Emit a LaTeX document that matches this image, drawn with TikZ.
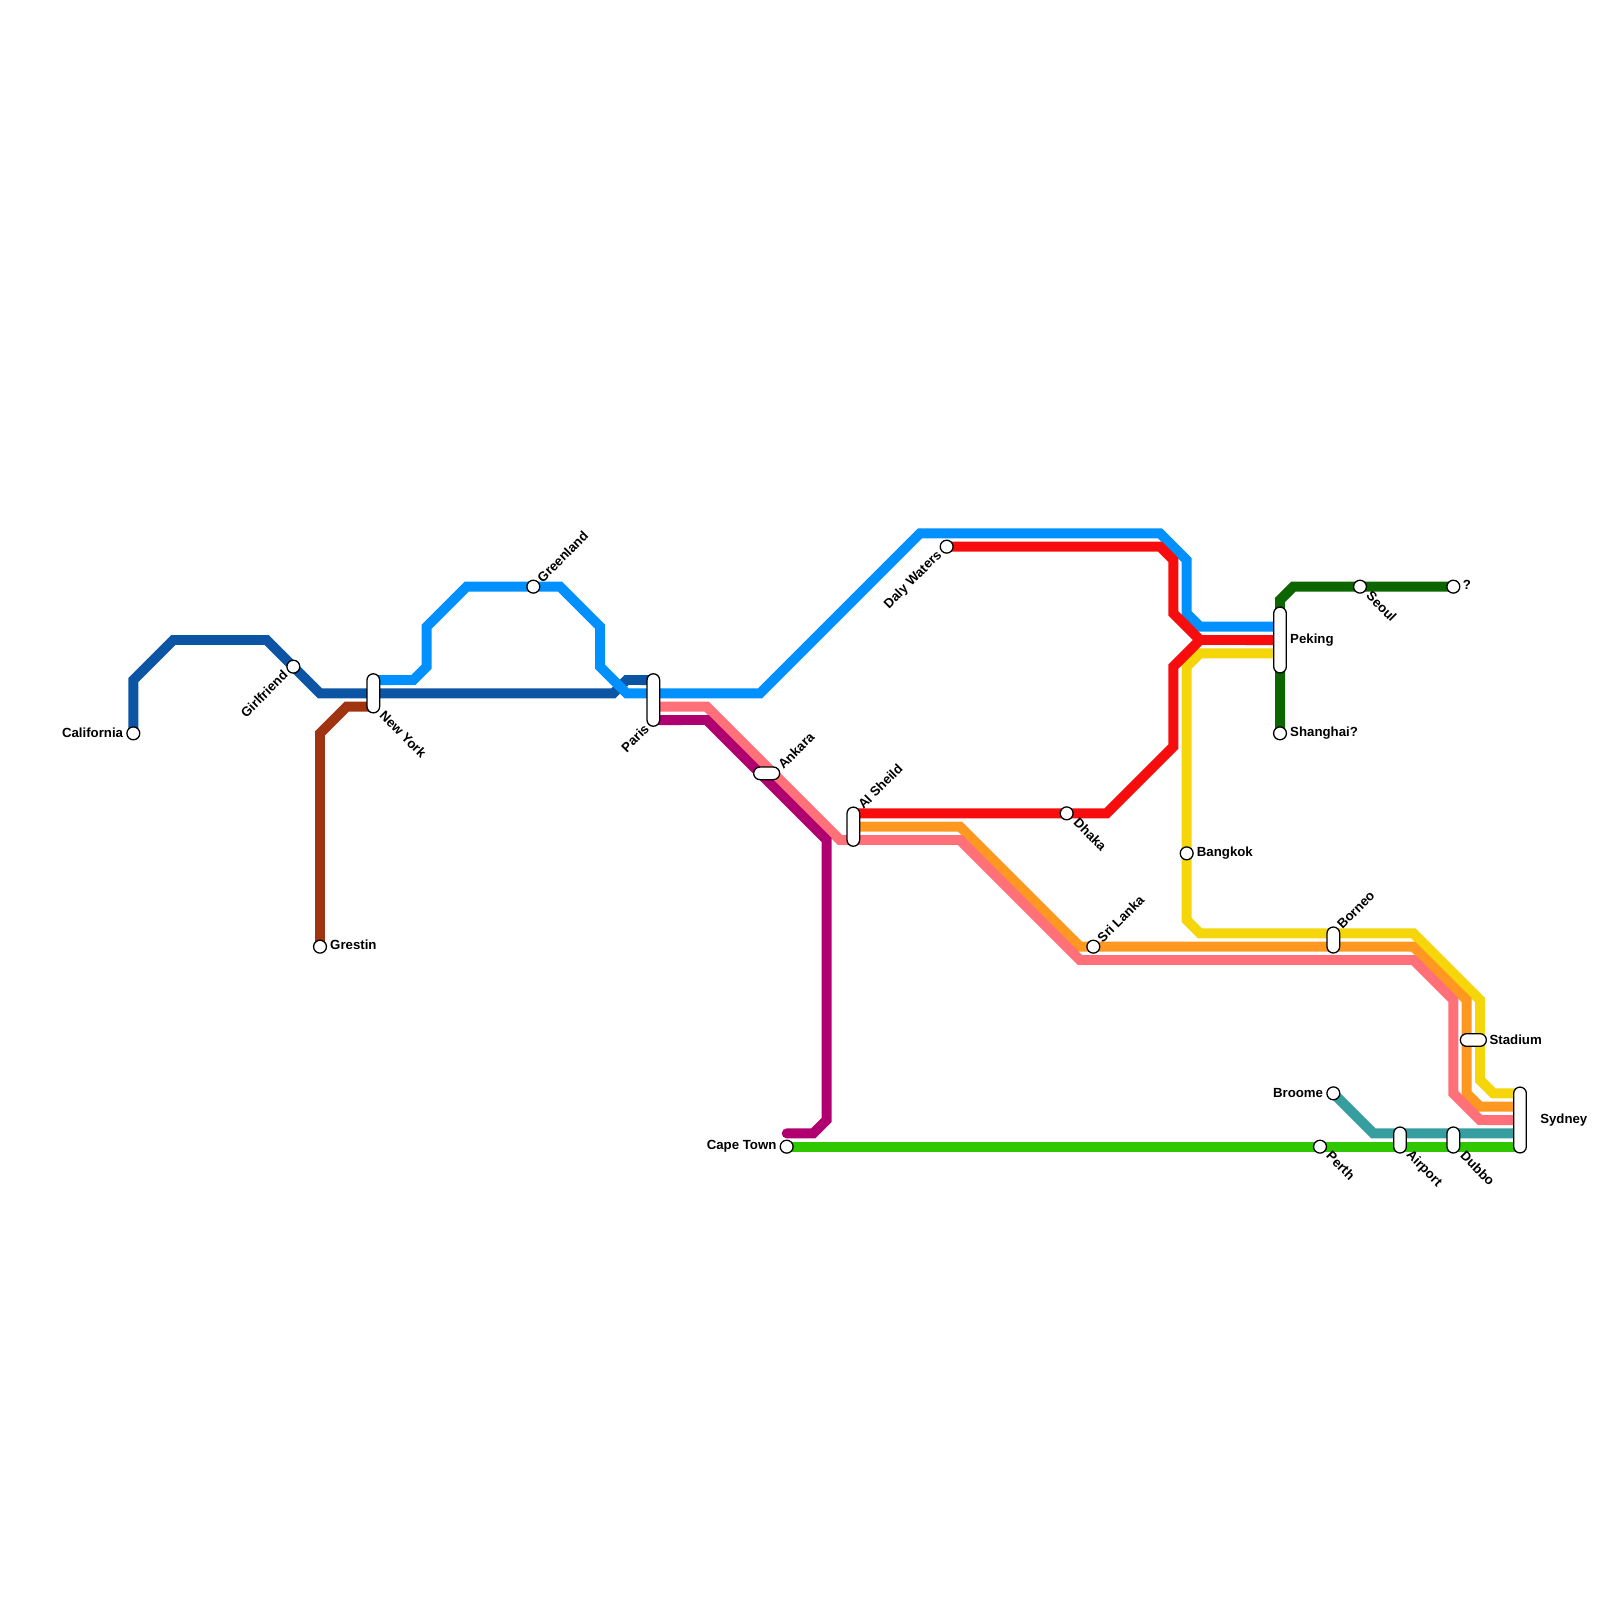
\documentclass[tikz,border=0pt]{standalone}
\usepackage{fontspec}
\setmainfont{Liberation Sans}
\usetikzlibrary{backgrounds}
\definecolor{navyline}{HTML}{0B55A4}
\definecolor{skyline}{HTML}{0090FF}
\definecolor{redline}{HTML}{F70D0D}
\definecolor{yellowline}{HTML}{F5D60B}
\definecolor{orangeline}{HTML}{FF9820}
\definecolor{pinkline}{HTML}{FF7078}
\definecolor{purpleline}{HTML}{B00070}
\definecolor{greenline}{HTML}{2FC800}
\definecolor{tealline}{HTML}{379EA0}
\definecolor{forestline}{HTML}{0C6600}
\definecolor{brownline}{HTML}{A03410}
\tikzset{
	route/.style={line width=8.5pt},
	stop/.style={circle,draw=black,fill=white,line width=1.1pt,minimum size=11pt},
	capsule/.style={draw=black,fill=white,line width=1.1pt,rounded corners=5.4pt},
	vcap/.style={capsule,minimum width=10.8pt,minimum height=#1},
	hcap/.style={capsule,minimum height=10.8pt,minimum width=#1},
	place/.style={font=\fontsize{11.3}{13}\selectfont\bfseries}
}
\begin{document}
\begin{tikzpicture}[scale=0.4]
	\tikzstyle{every node}+=[inner sep=0pt]
	\useasboundingbox (0,0) rectangle (120,-120);
	% round stops
	\node [stop] (california) at (10,-55) {};
	\node [stop] (girlfriend) at (22,-50) {};
	\node [stop] (greenland) at (40,-44) {};
	\node [stop] (grestin) at (24,-71) {};
	\node [stop] (capetown) at (59,-86) {};
	\node [stop] (dalywaters) at (71,-41) {};
	\node [stop] (dhaka) at (80,-61) {};
	\node [stop] (srilanka) at (82,-71) {};
	\node [stop] (bangkok) at (89,-64) {};
	\node [stop] (shanghai) at (96,-55) {};
	\node [stop] (seoul) at (102,-44) {};
	\node [stop] (mystery) at (109,-44) {};
	\node [stop] (broome) at (100,-82) {};
	\node [stop] (perth) at (99,-86) {};
	% long stops
	\node [vcap=33.4pt] (newyork) at (28,-52) {};
	\node [vcap=44.8pt] (paris) at (49,-52.5) {};
	\node [hcap=22.2pt] (ankara) at (57.5,-58) {};
	\node [vcap=33.4pt] (alsheild) at (64,-62) {};
	\node [vcap=56.2pt] (peking) at (96,-48) {};
	\node [vcap=22.2pt] (borneo) at (100,-70.5) {};
	\node [hcap=22.2pt] (stadium) at (110.5,-78) {};
	\node [vcap=22.2pt] (airport) at (105,-85.5) {};
	\node [vcap=22.2pt] (dubbo) at (109,-85.5) {};
	\node [vcap=56.2pt] (sydney) at (114,-84) {};
	% platforms on the long stops
	\coordinate (newyorkA) at (28,-51);
	\coordinate (newyorkC) at (28,-53);
	\coordinate (parisA) at (49,-51);
	\coordinate (parisC) at (49,-53);
	\coordinate (parisD) at (49,-54);
	\coordinate (alsheildA) at (64,-61);
	\coordinate (alsheildB) at (64,-62);
	\coordinate (alsheildC) at (64,-63);
	\coordinate (pekingA) at (96,-47);
	\coordinate (pekingB) at (96,-48);
	\coordinate (pekingC) at (96,-49);
	\coordinate (sydneyA) at (114,-82);
	\coordinate (sydneyB) at (114,-83);
	\coordinate (sydneyC) at (114,-84);
	\coordinate (sydneyD) at (114,-85);
	\coordinate (sydneyE) at (114,-86);
	\coordinate (purpleend) at (59,-85);
	% labels
	\node [place,anchor=east] (californiaL) at (9.25,-54.95) {California};
	\node [place,anchor=east,rotate=45] (girlfriendL) at (21.4,-50.45) {Girlfriend};
	\node [place,anchor=west,rotate=-45] (newyorkL) at (28.65,-53.5) {New York};
	\node [place,anchor=west,rotate=45] (greenlandL) at (40.45,-43.5) {Greenland};
	\node [place,anchor=west] (grestinL) at (24.75,-70.85) {Grestin};
	\node [place,anchor=east,rotate=45] (parisL) at (48.5,-54.5) {Paris};
	\node [place,anchor=west,rotate=45] (ankaraL) at (58.5,-57.5) {Ankara};
	\node [place,anchor=west,rotate=45] (alsheildL) at (64.5,-60.5) {Al Sheild};
	\node [place,anchor=east,rotate=45] (dalywatersL) at (70.5,-41.5) {Daly Waters};
	\node [place,anchor=west,rotate=-45] (dhakaL) at (80.7,-61.5) {Dhaka};
	\node [place,anchor=west,rotate=45] (srilankaL) at (82.45,-70.5) {Sri Lanka};
	\node [place,anchor=west] (bangkokL) at (89.75,-64) {Bangkok};
	\node [place,anchor=west] (pekingL) at (96.75,-48) {Peking};
	\node [place,anchor=west] (shanghaiL) at (96.75,-55) {Shanghai?};
	\node [place,anchor=west,rotate=-45] (seoulL) at (102.65,-44.5) {Seoul};
	\node [place,anchor=west] (mysteryL) at (109.7,-43.9) {?};
	\node [place,anchor=west,rotate=45] (borneoL) at (100.45,-69.5) {Borneo};
	\node [place,anchor=west] (stadiumL) at (111.7,-77.95) {Stadium};
	\node [place,anchor=east] (broomeL) at (99.25,-82) {Broome};
	\node [place,anchor=east] (capetownL) at (58.25,-86) {Cape Town};
	\node [place,anchor=west,rotate=-45] (perthL) at (99.65,-86.5) {Perth};
	\node [place,anchor=west,rotate=-45] (airportL) at (105.6,-86.5) {Airport};
	\node [place,anchor=west,rotate=-45] (dubboL) at (109.7,-86.5) {Dubbo};
	\node [place,anchor=west] (sydneyL) at (115.5,-84) {Sydney};
	% lines go under the stops
	\begin{scope}[on background layer,miter limit=4]
		\draw [route,navyline] (california.center) -- (10,-51) -- (13,-48) -- (20,-48) -- (girlfriend.center) -- (24,-52) -- (46,-52) -- (47,-51) -- (parisA);
		\draw [route,skyline] (newyorkA) -- (31,-51) -- (32,-50) -- (32,-47) -- (35,-44) -- (greenland.center) -- (42,-44) -- (45,-47) -- (45,-50) -- (47,-52) -- (57,-52) -- (69,-40) -- (87,-40) -- (89,-42) -- (89,-46) -- (90,-47) -- (pekingA);
		\draw [route,brownline] (grestin.center) -- (24,-55) -- (26,-53) -- (newyorkC);
		\draw [route,forestline] (shanghai.center) -- (96,-45) -- (97,-44) -- (seoul.center) -- (mystery.center);
		\draw [route,yellowline] (pekingC) -- (90,-49) -- (89,-50) -- (bangkok.center) -- (89,-69) -- (90,-70) -- (106,-70) -- (111,-75) -- (111,-81) -- (112,-82) -- (sydneyA);
		\draw [route,orangeline] (alsheildB) -- (72,-62) -- (81,-71) -- (106,-71) -- (110,-75) -- (110,-82) -- (111,-83) -- (sydneyB);
		\draw [route,pinkline] (parisC) -- (53,-53) -- (63,-63) -- (72,-63) -- (81,-72) -- (106,-72) -- (109,-75) -- (109,-82) -- (111,-84) -- (sydneyC);
		\draw [route,purpleline,line cap=round] (parisD) -- (53,-54) -- (62,-63) -- (62,-84) -- (61,-85) -- (purpleend);
		\draw [route,tealline] (broome.center) -- (103,-85) -- (sydneyD);
		\draw [route,greenline] (capetown.center) -- (perth.center) -- (sydneyE);
		\draw [route,redline] (dalywaters.center) -- (87,-41) -- (88,-42) -- (88,-46) -- (90,-48) -- (pekingB);
		\draw [route,redline] (alsheildA) -- (dhaka.center) -- (83,-61) -- (88,-56) -- (88,-50) -- (90,-48);
	\end{scope}
\end{tikzpicture}
\end{document}
